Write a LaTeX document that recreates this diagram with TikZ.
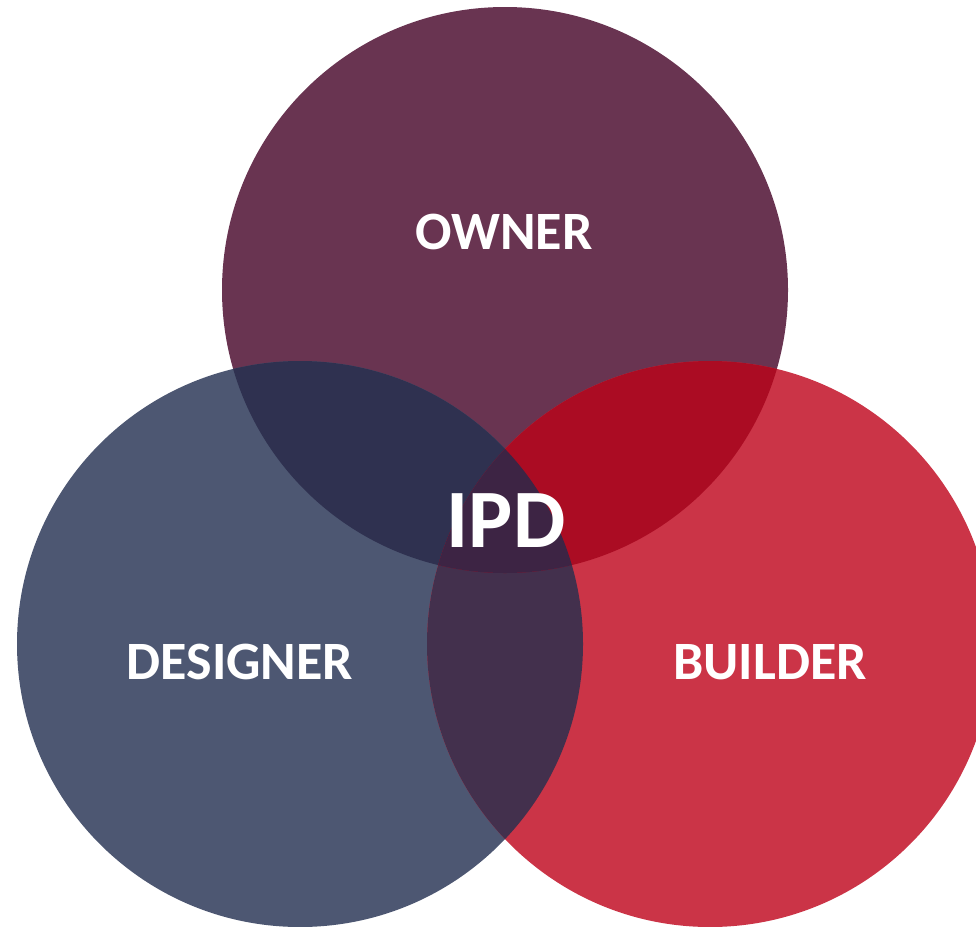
\documentclass[tikz,border=0pt]{standalone}
\usepackage{fontspec}
\setmainfont{Carlito}
\usepackage{tikz}
\definecolor{ownerc}{HTML}{693451}
\definecolor{designerc}{HTML}{4D5772}
\definecolor{builderc}{HTML}{CB3447}
\definecolor{odc}{HTML}{2F3150}
\definecolor{obc}{HTML}{AB0C23}
\definecolor{dbc}{HTML}{43304D}
\definecolor{ipdc}{HTML}{3D2444}
\tikzset{
	party/.style={text=white, font=\bfseries\fontsize{54}{56}\selectfont},
	core/.style={text=white, font=\bfseries\fontsize{83}{85}\selectfont}
}

\begin{document}
\begin{tikzpicture}[x=1pt,y=-1pt]
		\useasboundingbox (0,0) rectangle (976,926);
		\coordinate (o) at (505,290);
		\coordinate (d) at (300,644);
		\coordinate (b) at (710,644);
		\fill[ownerc] (o) circle[radius=283pt];
		\fill[designerc] (d) circle[radius=283pt];
		\fill[builderc] (b) circle[radius=283pt];
		\begin{scope}
			\clip (d) circle[radius=283pt];
			\fill[dbc] (b) circle[radius=283pt];
		\end{scope}
		\begin{scope}
			\clip (o) circle[radius=283pt];
			\fill[odc] (d) circle[radius=283pt];
			\fill[obc] (b) circle[radius=283pt];
			\clip (d) circle[radius=283pt];
			\fill[ipdc] (b) circle[radius=283pt];
		\end{scope}
		\node[party] (owner) at (504,232) {OWNER};
		\node[party] (designer) at (240,662) {DESIGNER};
		\node[party] (builder) at (770,662) {BUILDER};
		\node[core] (ipd) at (506,521) {IPD};
	\end{tikzpicture}
\end{document}
